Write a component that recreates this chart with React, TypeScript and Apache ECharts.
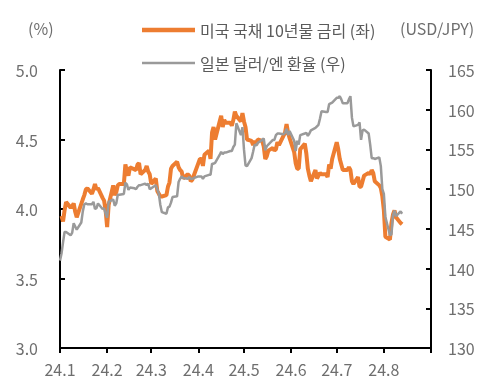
import React, { useEffect, useRef } from 'react';
import * as echarts from 'echarts';

// Trading dates (month/day, 2024)
const tradeDates = [
  '1/1','1/2','1/3','1/4','1/5','1/8','1/9','1/10','1/11','1/12','1/15','1/16','1/17','1/18','1/19','1/22','1/23','1/24','1/25','1/26','1/29','1/30','1/31',
  '2/1','2/2','2/5','2/6','2/7','2/8','2/9','2/12','2/13','2/14','2/15','2/16','2/19','2/20','2/21','2/22','2/23','2/26','2/27','2/28','2/29',
  '3/1','3/4','3/5','3/6','3/7','3/8','3/11','3/12','3/13','3/14','3/15','3/18','3/19','3/20','3/21','3/22','3/25','3/26','3/27','3/28','3/29',
  '4/1','4/2','4/3','4/4','4/5','4/8','4/9','4/10','4/11','4/12','4/15','4/16','4/17','4/18','4/19','4/22','4/23','4/24','4/25','4/26','4/29','4/30',
  '5/1','5/2','5/3','5/6','5/7','5/8','5/9','5/10','5/13','5/14','5/15','5/16','5/17','5/20','5/21','5/22','5/23','5/24','5/27','5/28','5/29','5/30','5/31',
  '6/3','6/4','6/5','6/6','6/7','6/10','6/11','6/12','6/13','6/14','6/17','6/18','6/19','6/20','6/21','6/24','6/25','6/26','6/27','6/28',
  '7/1','7/2','7/3','7/4','7/5','7/8','7/9','7/10','7/11','7/12','7/15','7/16','7/17','7/18','7/19','7/22','7/23','7/24','7/25','7/26','7/29','7/30','7/31',
  '8/1','8/2','8/5','8/6','8/7','8/8','8/9','8/12','8/13',
];

// US 10Y Treasury yield (%), left axis
const ust10y = [
  null,3.95,3.91,3.99,4.05,4.01,4.02,4.04,3.98,3.94,null,4.07,4.10,4.14,4.15,4.11,4.14,4.18,4.14,4.15,4.08,4.06,3.99,
  3.87,4.03,4.17,4.10,4.12,4.17,4.18,4.18,4.32,4.27,4.24,4.30,null,4.28,4.32,4.33,4.25,4.28,4.31,4.27,4.25,
  4.18,4.22,4.13,4.11,4.09,4.09,4.10,4.16,4.19,4.29,4.31,4.34,4.30,4.28,4.27,4.22,4.25,4.24,4.20,4.21,null,
  4.33,4.36,4.36,4.31,4.39,4.42,4.36,4.55,4.59,4.50,4.63,4.67,4.59,4.64,4.62,4.62,4.60,4.64,4.70,4.67,4.63,4.69,
  4.63,4.59,4.50,4.49,4.46,4.49,4.46,4.50,4.49,4.45,4.36,4.38,4.42,4.44,4.42,4.43,4.48,4.46,null,4.55,4.61,4.55,4.51,
  4.41,4.33,4.29,4.29,4.43,4.47,4.40,4.29,4.24,4.20,4.28,4.22,null,4.26,4.25,4.25,4.23,4.32,4.29,4.36,
  4.48,4.43,4.36,null,4.28,4.28,4.30,4.28,4.20,4.18,4.23,4.16,4.16,4.20,4.24,4.26,4.25,4.28,4.26,4.20,4.17,4.15,4.09,
  3.99,3.80,3.78,3.90,3.96,3.99,3.94,3.90,3.89,
];

// USD/JPY, right axis
const usdJpy = [
  141.0,141.9,143.3,144.6,144.6,144.2,144.5,145.7,145.3,144.9,145.8,147.2,148.1,148.2,148.1,148.1,148.4,147.5,147.6,148.2,147.5,147.6,146.9,
  146.4,148.4,148.7,147.9,148.2,149.3,149.3,149.4,150.8,150.6,149.9,150.2,150.1,150.0,150.3,150.5,150.5,150.7,150.5,150.7,150.0,
  150.1,150.5,150.0,149.4,148.0,147.1,146.9,147.7,147.8,148.3,149.0,149.1,150.9,151.3,151.6,151.4,151.3,151.5,151.3,151.3,151.4,
  151.6,151.6,151.6,151.3,151.6,151.8,151.8,153.2,153.2,153.3,154.3,154.7,154.4,154.6,154.6,154.8,154.8,155.3,155.6,158.3,156.8,157.8,
  155.0,153.0,152.9,153.9,154.7,155.6,155.5,155.8,156.2,156.4,154.9,155.4,155.6,156.2,156.2,156.8,157.0,157.0,156.9,157.1,157.6,156.8,157.3,
  156.1,154.8,156.1,155.6,156.8,157.0,157.1,156.7,157.0,157.4,157.7,157.9,158.1,158.9,159.8,159.7,159.7,160.7,160.8,160.9,
  161.5,161.5,161.7,161.3,160.8,160.8,161.3,161.7,159.0,157.9,158.1,158.4,156.2,157.4,157.5,157.0,155.6,153.9,153.9,153.8,154.0,152.9,150.0,
  149.4,146.5,144.2,144.3,146.7,147.3,146.6,147.2,146.9,
];

const seriesNames = ['미국 국채 10년물 금리 (좌)', '일본 달러/엔 환율 (우)'];
const leftUnit = '(%)';
const rightUnit = '(USD/JPY)';
const yearPrefix = '24.';

const FONT = "'Noto Sans CJK KR', 'Noto Sans', sans-serif";
const TXT = '#6e6e6e';
const LEG_TXT = '#5a5a5a';
const ORANGE = '#ED7D31';
const GRAY = '#9A9A9A';

function pad(n: number) {
  return n < 10 ? '0' + n : '' + n;
}

// Calendar-day categories, Jan 1 to Sep 1, 2024
const categories: string[] = [];
{
  const start = Date.UTC(2024, 0, 1);
  const end = Date.UTC(2024, 8, 1);
  for (let t = start; t <= end; t += 86400000) {
    const d = new Date(t);
    categories.push(`2024-${pad(d.getUTCMonth() + 1)}-${pad(d.getUTCDate())}`);
  }
}

function catIndex(md: string) {
  const [m, d] = md.split('/').map(Number);
  return categories.indexOf(`2024-${pad(m)}-${pad(d)}`);
}

export default function App() {
  const ref = useRef<HTMLDivElement>(null);
  useEffect(() => {
    if (!ref.current) return;
    const chart = echarts.init(ref.current, undefined, { renderer: 'svg' });
    const isMonthStart = (_i: number, v: string) => v.endsWith('-01');
    chart.setOption({
      animation: false,
      textStyle: { fontFamily: FONT },
      grid: { left: 60, right: 65, top: 70, bottom: 40, containLabel: false },
      graphic: [
        { type: 'text', x: 28, y: 28, style: { text: leftUnit, fill: TXT, font: `16px ${FONT}`, verticalAlign: 'middle' } },
        { type: 'text', x: 400, y: 28, style: { text: rightUnit, fill: TXT, font: `16px ${FONT}`, verticalAlign: 'middle' } },
        { type: 'line', shape: { x1: 142, y1: 30, x2: 195, y2: 30 }, style: { stroke: ORANGE, lineWidth: 4.5 } },
        { type: 'text', x: 200, y: 30, style: { text: seriesNames[0], fill: LEG_TXT, font: `16px ${FONT}`, verticalAlign: 'middle' } },
        { type: 'line', shape: { x1: 142, y1: 63, x2: 195, y2: 63 }, style: { stroke: GRAY, lineWidth: 2.5 } },
        { type: 'text', x: 200, y: 63, style: { text: seriesNames[1], fill: LEG_TXT, font: `16px ${FONT}`, verticalAlign: 'middle' } },
      ],
      xAxis: {
        type: 'category',
        data: categories,
        boundaryGap: false,
        axisLine: { lineStyle: { color: '#000', width: 2 } },
        axisTick: { interval: isMonthStart, length: 5, lineStyle: { color: '#000', width: 2 } },
        axisLabel: {
          interval: isMonthStart,
          color: TXT,
          fontSize: 16,
          margin: 13,
          formatter: (v: string) => {
            const m = Number(v.slice(5, 7));
            return m <= 8 ? yearPrefix + m : '';
          },
        },
        splitLine: { show: false },
      },
      yAxis: [
        {
          type: 'value',
          min: 3.0,
          max: 5.0,
          interval: 0.5,
          position: 'left',
          axisLine: { show: true, lineStyle: { color: '#000', width: 2 } },
          axisTick: { show: true, inside: true, length: 5, lineStyle: { color: '#000', width: 2 } },
          axisLabel: { color: TXT, fontSize: 16, margin: 22, formatter: (v: number) => v.toFixed(1) },
          splitLine: { show: false },
        },
        {
          type: 'value',
          min: 130,
          max: 165,
          interval: 5,
          position: 'right',
          axisLine: { show: true, lineStyle: { color: '#000', width: 2 } },
          axisTick: { show: true, inside: true, length: 5, lineStyle: { color: '#000', width: 2 } },
          axisLabel: { color: TXT, fontSize: 16, margin: 17 },
          splitLine: { show: false },
        },
      ],
      series: [
        {
          name: seriesNames[0],
          type: 'line',
          yAxisIndex: 0,
          symbol: 'none',
          connectNulls: true,
          lineStyle: { color: ORANGE, width: 4 },
          itemStyle: { color: ORANGE },
          data: tradeDates.map((d, i) => [catIndex(d), ust10y[i]]),
          z: 2,
        },
        {
          name: seriesNames[1],
          type: 'line',
          yAxisIndex: 1,
          symbol: 'none',
          lineStyle: { color: GRAY, width: 2.5 },
          itemStyle: { color: GRAY },
          data: tradeDates.map((d, i) => [catIndex(d), usdJpy[i]]),
          z: 3,
        },
      ],
    });
    return () => chart.dispose();
  }, []);
  return <div ref={ref} style={{ position: 'fixed', left: 0, top: 0, width: 496, height: 388 }} />;
}
